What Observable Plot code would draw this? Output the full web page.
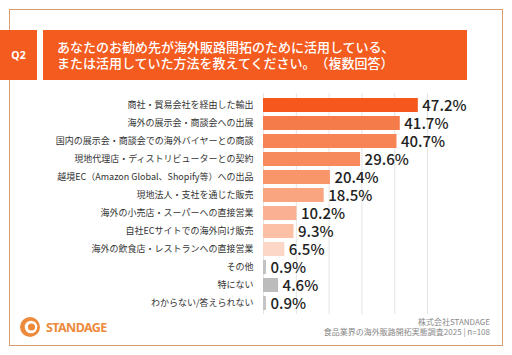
<!DOCTYPE html>
<html><head><meta charset="utf-8">
<script src="https://cdn.jsdelivr.net/npm/d3@7"></script>
<script src="https://cdn.jsdelivr.net/npm/@observablehq/plot@0.6"></script>
<style>
body{margin:0;background:#fff;font-family:"Noto Sans CJK JP","Noto Sans",sans-serif;font-feature-settings:"chws" 0;text-spacing-trim:space-all;}
svg text{font-feature-settings:"chws" 0;text-spacing-trim:space-all;}
#wrap{position:relative;width:512px;height:355px;overflow:hidden;background:#fff;}
#frame{position:absolute;left:9px;top:9px;width:492px;height:335px;border:1.5px solid #d99d72;}
#q{position:absolute;left:0;top:30px;width:37px;height:50px;background:#f45b1f;color:#fff;font:700 10.5px "Noto Sans",sans-serif;display:flex;align-items:center;justify-content:center;}
#title{position:absolute;left:43px;top:30px;width:424px;height:50px;background:#f45b1f;color:#fff;font-size:13px;font-weight:500;line-height:16px;padding:9px 0 0 14px;box-sizing:border-box;white-space:nowrap;text-spacing-trim:space-all;}
#title div{height:16px;}
#chart{position:absolute;left:0;top:88px;}
#logo{position:absolute;left:19px;top:316px;height:22px;display:flex;align-items:center;}
#logo span{font:700 12.5px "Noto Sans",sans-serif;color:#ee8a3c;letter-spacing:-0.6px;margin-left:5px;}
#src{position:absolute;right:22px;top:317px;text-align:right;font-size:8px;line-height:9.5px;color:#888;}
</style></head><body>
<div id="wrap">
  <div id="frame"></div>
  <div id="q">Q2</div>
  <div id="title"><div>あなたのお勧め先が海外販路開拓のために活用している、</div><div>または活用していた方法を教えてください。（複数回答）</div></div>
  <div id="chart"></div>
  <div id="logo"><svg width="22" height="22" viewBox="0 0 22 22"><circle cx="11" cy="11" r="10" fill="#ee8a3c"/><circle cx="12" cy="11" r="6.3" fill="#fff"/><circle cx="12.5" cy="11" r="3.6" fill="#ee8a3c"/></svg><span>STANDAGE</span></div>
  <div id="src">株式会社STANDAGE<br>食品業界の海外販路開拓実態調査2025 | n=108</div>
</div>
<script>
const categories = [
  "商社・貿易会社を経由した輸出",
  "海外の展示会・商談会への出展",
  "国内の展示会・商談会での海外バイヤーとの商談",
  "現地代理店・ディストリビューターとの契約",
  "越境EC（Amazon Global、Shopify等）への出品",
  "現地法人・支社を通じた販売",
  "海外の小売店・スーパーへの直接営業",
  "自社ECサイトでの海外向け販売",
  "海外の飲食店・レストランへの直接営業",
  "その他",
  "特にない",
  "わからない/答えられない"
];
const values = [47.2, 41.7, 40.7, 29.6, 20.4, 18.5, 10.2, 9.3, 6.5, 0.9, 4.6, 0.9];
const gridTicks = [0, 10, 20, 30, 40, 50];
const barColors = ["#f5571d","#f67b4b","#f78454","#f78a5c","#f89669","#f9a580","#fab193","#fbc0a6","#fcd6c6","#c2c2c2","#bcbcbc","#c4c4c4"];

const data = categories.map((c, i) => ({category: c, value: values[i]}));

const chart = Plot.plot({
  width: 512,
  height: 228,
  marginLeft: 263,
  marginRight: 85,
  marginTop: 5,
  marginBottom: 2,
  style: {fontFamily: '"Noto Sans CJK JP", sans-serif', background: "transparent", overflow: "visible"},
  x: {domain: [0, 50], axis: null},
  y: {domain: categories, paddingInner: 0.24, paddingOuter: 0.12, axis: null},
  color: {domain: categories, range: barColors},
  marks: [
    Plot.ruleX(gridTicks, {stroke: "#e4e4e4", strokeWidth: 1}),
    Plot.barX(data, {x: "value", y: "category", fill: "category"}),
    Plot.axisY({tickSize: 0, tickPadding: 10, fontSize: 9, fill: "#333", letterSpacing: 0.15, label: null}),
    Plot.text(data, {x: "value", y: "category", text: d => d.value.toFixed(1) + "%", textAnchor: "start", dx: 4, dy: 0.5, fontSize: 15, fontWeight: 500, fill: "#222"})
  ]
});
document.getElementById("chart").appendChild(chart);
</script>
</body></html>
